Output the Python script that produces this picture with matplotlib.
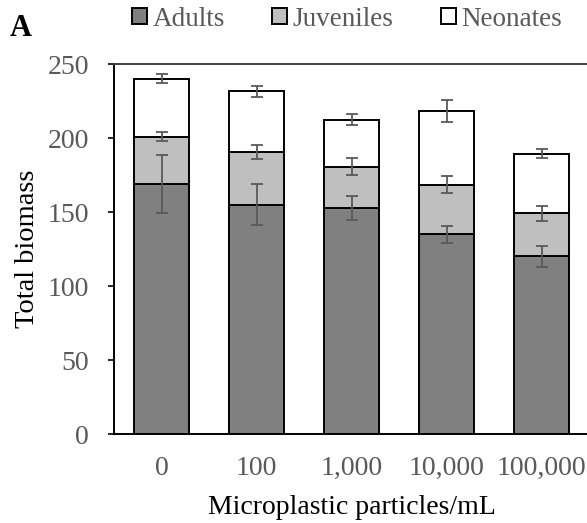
import numpy as np
import matplotlib
matplotlib.use("Agg")
import matplotlib.pyplot as plt

# Werte
categories = ["0", "100", "1,000", "10,000", "100,000"]
adults = [169, 155, 152.5, 135, 120]
adults_err = [19.5, 14, 8, 5.8, 7]
juveniles = [32, 35.5, 28, 33.5, 29]
juveniles_err = [3.2, 4.8, 5.7, 5.6, 5]
neonates = [39, 41, 32, 49.5, 40.5]
neonates_err = [3, 3.7, 3.6, 7.4, 3.3]

plt.rcParams['font.family'] = ['Liberation Serif', 'DejaVu Serif']

fig = plt.figure(figsize=(5.87, 5.23), dpi=100)
W, H = 587, 523
ax = fig.add_axes([114 / W, 1 - 434 / H, 475 / W, 370 / H])

x = np.arange(len(categories))
adults = np.array(adults)
juveniles = np.array(juveniles)
neonates = np.array(neonates)
bw = 0.574
edge = dict(edgecolor='black', linewidth=1.4)

ax.bar(x, adults, bw, color='#808080', label='Adults', **edge)
ax.bar(x, juveniles, bw, bottom=adults, color='#bfbfbf', label='Juveniles', **edge)
ax.bar(x, neonates, bw, bottom=adults + juveniles, color='white', label='Neonates', **edge)

eb = dict(fmt='none', ecolor='#595959', elinewidth=1.3, capsize=4.5, capthick=1.3, zorder=5)
ax.errorbar(x, adults, yerr=adults_err, **eb)
ax.errorbar(x, adults + juveniles, yerr=juveniles_err, **eb)
ax.errorbar(x, adults + juveniles + neonates, yerr=neonates_err, **eb)

ax.set_xlim(-0.5, 4.5)
ax.set_ylim(0, 250)
ax.set_yticks([0, 50, 100, 150, 200, 250])
ax.set_xticks(x)
ax.set_xticklabels(categories)
ax.tick_params(axis='x', length=0, pad=16, labelsize=20, labelcolor='#595959')
ax.tick_params(axis='y', length=4, width=1.2, pad=14, labelsize=20, labelcolor='#595959')
for s in ['left', 'bottom', 'top']:
    ax.spines[s].set_linewidth(1.4)
    ax.spines[s].set_color('black')
ax.spines['top'].set_color('#404040')
ax.spines['right'].set_visible(False)

ax.set_xlabel('Microplastic particles/mL', fontsize=20, labelpad=10)
ax.set_ylabel('Total biomass', fontsize=20.5)
ax.yaxis.set_label_coords(-74 / 475, 0.5)

leg = fig.legend(loc='center', bbox_to_anchor=(347 / W, 1 - 19 / H), ncol=3, frameon=False,
                 fontsize=19.5, handlelength=0.55, handleheight=0.55, handletextpad=0.2,
                 columnspacing=1.75, borderaxespad=0, borderpad=0)
for t in leg.get_texts():
    t.set_color('#595959')

fig.text(21 / W, 1 - 28 / H, 'A', fontsize=22, fontweight='bold', ha='center', va='center')

fig.savefig('out.png', dpi=100)
